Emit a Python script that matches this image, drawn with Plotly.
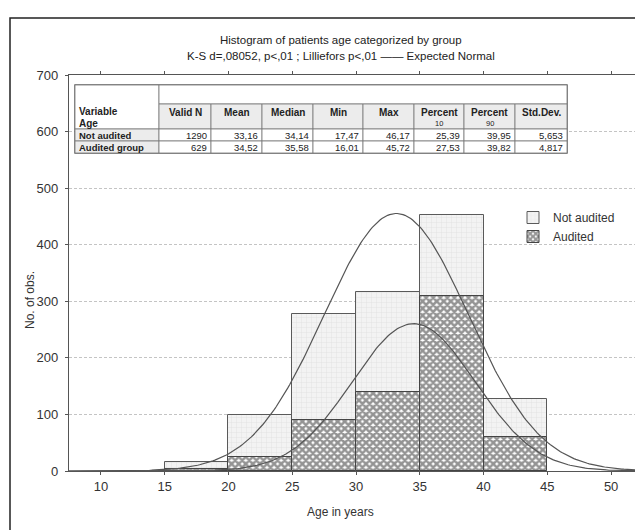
import numpy as np
import plotly.graph_objects as go

# ---------------- data ----------------
bin_centers = [17.5, 22.5, 27.5, 32.5, 37.5, 42.5]
not_audited = [16, 99, 278, 317, 453, 127]
audited = [4, 25, 90, 140, 310, 60]
bin_width = 5

table_cols = ["Valid N", "Mean", "Median", "Min", "Max", "Percent", "Percent", "Std.Dev."]
table_subs = ["", "", "", "", "", "10", "90", ""]
row_labels = ["Not audited", "Audited group"]
row_not_audited = ["1290", "33,16", "34,14", "17,47", "46,17", "25,39", "39,95", "5,653"]
row_audited = ["629", "34,52", "35,58", "16,01", "45,72", "27,53", "39,82", "4,817"]
stats_n = [1290, 629]
stats_mean = [33.16, 34.52]
stats_sd = [5.653, 4.817]

x_ticks = [10, 15, 20, 25, 30, 35, 40, 45, 50]
y_ticks = [0, 100, 200, 300, 400, 500, 600, 700]

# ---------------- layout geometry (screen pixels) ----------------
OFF = 8  # page body margin
W, H = 643 - OFF, 530 - OFF
L, R, T, B = 69, 643, 75, 471  # plot area in screen pixels
FONT = "Liberation Sans, Arial, sans-serif"


def px(xp):
    return (xp - L) / (R - L)


def py(yp):
    return (B - yp) / (B - T)


fig = go.Figure()

fig.add_trace(go.Bar(
    x=bin_centers, y=not_audited, width=bin_width, name="Not audited",
    marker=dict(color="#f2f2f2", opacity=1, line=dict(color="#5a5a5a", width=1),
                pattern=dict(shape="+", fgcolor="#c8c8c8", bgcolor="#f3f3f3", size=5, solidity=0.15)),
))
fig.add_trace(go.Bar(
    x=bin_centers, y=audited, width=bin_width, name="Audited",
    marker=dict(color="#222222", opacity=1, line=dict(color="#444444", width=1),
                pattern=dict(shape="x", fgcolor="#2a2a2a", bgcolor="#ffffff", size=5, solidity=0.75)),
))

# expected normal curves from table statistics
xs = np.linspace(7.5, 52.5, 300)
for n, m, s in zip(stats_n, stats_mean, stats_sd):
    ys = n * bin_width / (s * np.sqrt(2 * np.pi)) * np.exp(-0.5 * ((xs - m) / s) ** 2)
    fig.add_trace(go.Scatter(x=xs, y=ys, mode="lines", showlegend=False,
                             line=dict(color="#555555", width=1.2), hoverinfo="skip"))

shapes = []
annotations = []

# outer frame
shapes.append(dict(type="rect", xref="paper", yref="paper",
                   x0=px(10), x1=px(700), y0=py(600), y1=py(18),
                   line=dict(color="#222222", width=1.5)))

# table
tx0, tx1 = 75, 567
ty0, ty_hdr, ty_r1, ty_r2, ty1 = 85, 104, 129, 141, 153
col_edges = [159, 211, 262, 313, 363, 414, 464, 515, 567]


def rect(x0, x1, y0, y1, fill, lw=0.8, lc="#777777"):
    shapes.append(dict(type="rect", xref="paper", yref="paper",
                       x0=px(x0), x1=px(x1), y0=py(y1), y1=py(y0),
                       fillcolor=fill, line=dict(color=lc, width=lw), layer="above"))


rect(tx0, tx1, ty0, ty1, "white", lw=1.5, lc="#666666")
rect(tx0, col_edges[0], ty0, ty_r1, "white")
rect(col_edges[0], tx1, ty0, ty_hdr, "white")
for i in range(8):
    rect(col_edges[i], col_edges[i + 1], ty_hdr, ty_r1, "#ececec")
for r, (y0, y1) in enumerate([(ty_r1, ty_r2), (ty_r2, ty1)]):
    rect(tx0, col_edges[0], y0, y1, "#ececec")
    for i in range(8):
        rect(col_edges[i], col_edges[i + 1], y0, y1, "white")

TF = dict(size=10, color="#222", family=FONT)


def txt(x, y, s, anchor="left", font=TF):
    annotations.append(dict(xref="paper", yref="paper", x=px(x), y=py(y), xanchor=anchor,
                            yanchor="middle", text=s, showarrow=False, font=font))


txt(77, 111, "<b>Variable</b>")
txt(77, 123, "<b>Age</b>")
for i, (c, s) in enumerate(zip(table_cols, table_subs)):
    cx = (col_edges[i] + col_edges[i + 1]) / 2
    txt(cx, 112, "<b>" + c + "</b>", "center")
    if s:
        txt(cx, 123.5, s, "center", dict(size=7.5, color="#222", family=FONT))
for lab, vals, yc in zip(row_labels, [row_not_audited, row_audited], [135, 147]):
    txt(77, yc, "<b>" + lab + "</b>", "left", dict(size=9.5, color="#222", family=FONT))
    for i, v in enumerate(vals):
        txt(col_edges[i + 1] - 2, yc, v, "right", dict(size=9.5, color="#222", family=FONT))

# titles
TT = dict(size=11.5, color="#222", family=FONT)
txt(341, 40, "Histogram of patients age categorized by group", "center", TT)
txt(341, 56, "K-S d=,08052, p<,01 ; Lilliefors p<,01 —— Expected Normal", "center", TT)

# axis titles
annotations.append(dict(xref="paper", yref="paper", x=px(30), y=py(300), xanchor="center",
                        yanchor="middle", text="No. of obs.", textangle=-90, showarrow=False,
                        font=dict(size=12, color="#333", family=FONT)))
txt(340, 512, "Age in years", "center", dict(size=12, color="#333", family=FONT))

fig.update_layout(
    width=W, height=H,
    margin=dict(l=L - OFF, r=643 - R, t=T - OFF, b=530 - B, autoexpand=False),
    paper_bgcolor="white", plot_bgcolor="white",
    barmode="overlay", bargap=0,
    font=dict(family=FONT, size=13, color="#333333"),
    showlegend=True,
    legend=dict(x=px(513), y=py(203), xanchor="left", yanchor="top",
                bgcolor="rgba(0,0,0,0)", font=dict(size=12, color="#333"),
                tracegroupgap=0),
    shapes=shapes, annotations=annotations,
    xaxis=dict(range=[7.5, 52.5], tickvals=x_ticks, showgrid=False, zeroline=False,
               showline=True, linecolor="#555555", linewidth=1.2, mirror="ticks",
               ticks="outside", ticklen=3, tickcolor="#555555", automargin=False,
               tickfont=dict(size=13, color="#333")),
    yaxis=dict(range=[0, 700], tickvals=y_ticks, showgrid=True, gridcolor="#c4c4c4",
               griddash="3px,2px", gridwidth=1, zeroline=False,
               showline=True, linecolor="#555555", linewidth=1.2, mirror=False,
               ticks="outside", ticklen=3, tickcolor="#555555", automargin=False,
               ticklabelstandoff=4, tickfont=dict(size=13, color="#333")),
)

fig.write_html("out.html")
